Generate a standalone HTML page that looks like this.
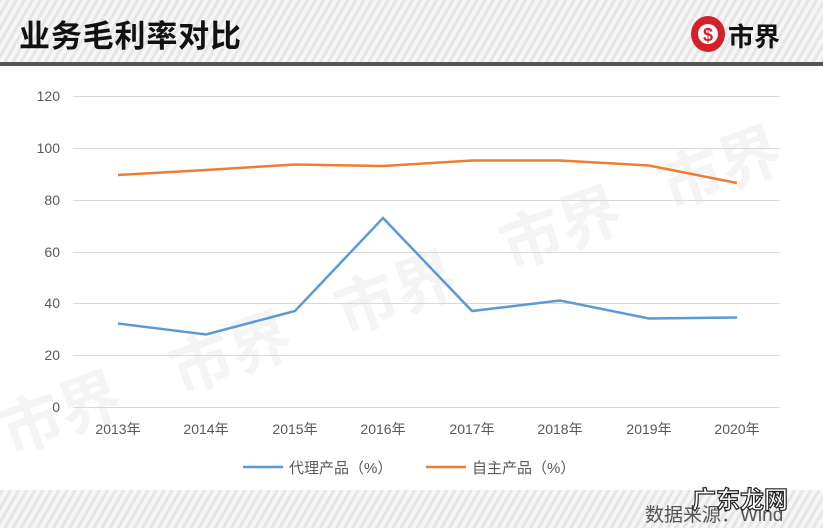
<!DOCTYPE html>
<html><head><meta charset="utf-8"><style>
body{margin:0;width:823px;height:528px;overflow:hidden;background:#fff;font-family:"Liberation Sans","Noto Sans CJK SC",sans-serif;}
.hdr{position:absolute;left:0;top:0;width:823px;height:62px;background:repeating-linear-gradient(-60deg,#e6e6e6 0 3px,#f6f6f6 3px 7px);}
.bar{position:absolute;left:0;top:62px;width:823px;height:4px;background:#555;}
.ftr{position:absolute;left:0;top:490px;width:823px;height:38px;background:repeating-linear-gradient(-60deg,#e6e6e6 0 3px,#f6f6f6 3px 7px);}
</style></head><body>
<div class="hdr"></div><div class="bar"></div><div class="ftr"></div>
<svg width="823" height="528" style="position:absolute;left:0;top:0" font-family="Liberation Sans, Noto Sans CJK SC, sans-serif">
<text x="19" y="47" font-size="31" font-weight="bold" fill="#111" font-family="Noto Sans CJK SC, sans-serif" textLength="222">业务毛利率对比</text>
<ellipse cx="708" cy="34" rx="17" ry="18" fill="#d3202a"/>
<circle cx="708" cy="34" r="10" fill="#fff"/>
<text x="708" y="41" font-size="18" font-weight="bold" fill="#d3202a" text-anchor="middle">$</text>
<text x="728" y="46" font-size="26" font-weight="bold" fill="#111" font-family="Noto Sans CJK SC, sans-serif">市界</text>
<g font-size="62" font-weight="bold" fill="#f4f4f4" font-family="Noto Sans CJK SC, sans-serif">
<text x="10" y="455" transform="rotate(-20 10 455)">市界</text>
<text x="180" y="395" transform="rotate(-20 180 395)">市界</text>
<text x="345" y="335" transform="rotate(-20 345 335)">市界</text>
<text x="510" y="270" transform="rotate(-20 510 270)">市界</text>
<text x="670" y="210" transform="rotate(-20 670 210)">市界</text>
</g>
<g stroke="#d9d9d9" stroke-width="1">
<line x1="73" x2="780" y1="96.5" y2="96.5"/><line x1="73" x2="780" y1="148.5" y2="148.5"/>
<line x1="73" x2="780" y1="200.5" y2="200.5"/><line x1="73" x2="780" y1="252.5" y2="252.5"/>
<line x1="73" x2="780" y1="303.5" y2="303.5"/><line x1="73" x2="780" y1="355.5" y2="355.5"/>
<line x1="73" x2="780" y1="407.5" y2="407.5"/>
</g>
<g font-size="14" fill="#595959" text-anchor="end">
<text x="60" y="101">120</text><text x="60" y="153">100</text><text x="60" y="205">80</text>
<text x="60" y="257">60</text><text x="60" y="308">40</text><text x="60" y="360">20</text><text x="60" y="412">0</text>
</g>
<g font-size="14" fill="#595959" text-anchor="middle">
<text x="118" y="434">2013年</text><text x="206" y="434">2014年</text><text x="295" y="434">2015年</text>
<text x="383" y="434">2016年</text><text x="472" y="434">2017年</text><text x="560" y="434">2018年</text>
<text x="649" y="434">2019年</text><text x="737" y="434">2020年</text>
</g>
<polyline fill="none" stroke="#ed7d31" stroke-width="2.5" points="118,175 206,170 295,164.5 383,166 472,160.5 560,160.5 649,165.5 737,183"/>
<polyline fill="none" stroke="#5b9bd5" stroke-width="2.5" points="118,323.5 206,334.5 295,311 383,218 472,311 560,300.5 649,318.5 737,317.5"/>
<line x1="243" x2="283" y1="467" y2="467" stroke="#5b9bd5" stroke-width="2.5"/>
<text x="289" y="473" font-size="15" fill="#595959">代理产品（%）</text>
<line x1="426" x2="466" y1="467" y2="467" stroke="#ed7d31" stroke-width="2.5"/>
<text x="472" y="473" font-size="15" fill="#595959">自主产品（%）</text>
<text x="645" y="521" font-size="19" fill="#555">数据来源：Wind</text>
<text x="692" y="508" font-size="24" font-weight="bold" fill="#fff" stroke="#222" stroke-width="1.2">广东龙网</text>
</svg>
</body></html>
